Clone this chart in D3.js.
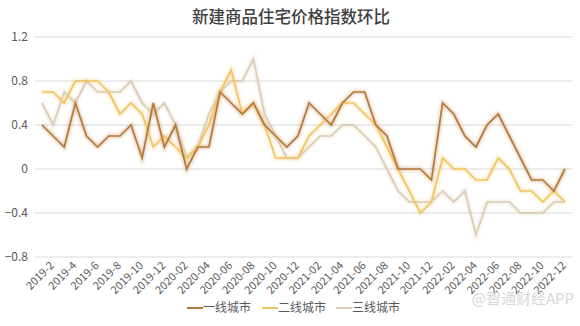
<!DOCTYPE html>
<meta charset="utf-8">
<style>
body { margin: 0; background: #fff; }
text { font-family: "Noto Sans CJK SC", "Noto Sans", sans-serif; }
</style>
<body>
<script src="https://d3js.org/d3.v7.min.js"></script>
<script>

var width = 580,
    height = 326;

var months = [
  "2019-1","2019-2","2019-3","2019-4","2019-5","2019-6","2019-7","2019-8","2019-9","2019-10","2019-11","2019-12",
  "2020-01","2020-02","2020-03","2020-04","2020-05","2020-06","2020-07","2020-08","2020-09","2020-10","2020-11","2020-12",
  "2021-01","2021-02","2021-03","2021-04","2021-05","2021-06","2021-07","2021-08","2021-09","2021-10","2021-11","2021-12",
  "2022-01","2022-02","2022-03","2022-04","2022-05","2022-06","2022-07","2022-08","2022-09","2022-10","2022-11","2022-12"
];

// labels shown on the x axis (every other month)
var tickLabels = months.filter(function(d, i){ return i % 2 == 1; });

var yTicks = [-0.8, -0.4, 0, 0.4, 0.8, 1.2];

var tier1 = [0.4,0.3,0.2,0.6,0.3,0.2,0.3,0.3,0.4,0.1,0.6,0.2,
             0.4,0,0.2,0.2,0.7,0.6,0.5,0.6,0.4,0.3,0.2,0.3,
             0.6,0.5,0.4,0.6,0.7,0.7,0.4,0.3,0,0,0,-0.1,
             0.6,0.5,0.3,0.2,0.4,0.5,0.3,0.1,-0.1,-0.1,-0.2,0];

var tier2 = [0.7,0.7,0.6,0.8,0.8,0.8,0.7,0.5,0.6,0.5,0.2,0.3,
             0.2,0.1,0.2,0.4,0.7,0.9,0.5,0.6,0.4,0.1,0.1,0.1,
             0.3,0.4,0.5,0.6,0.6,0.5,0.4,0.2,0,-0.2,-0.4,-0.3,
             0.1,0,0,-0.1,-0.1,0.1,0,-0.2,-0.2,-0.3,-0.2,-0.3];

var tier3 = [0.6,0.4,0.7,0.6,0.8,0.7,0.7,0.7,0.8,0.6,0.5,0.6,
             0.4,0.1,0.2,0.5,0.7,0.8,0.8,1.0,0.5,0.3,0.1,0.1,
             0.2,0.3,0.3,0.4,0.4,0.3,0.2,0,-0.2,-0.3,-0.3,-0.3,
             -0.2,-0.3,-0.2,-0.6,-0.3,-0.3,-0.3,-0.4,-0.4,-0.4,-0.3,-0.3];

var seriesNames = ["一线城市", "二线城市", "三线城市"];
var seriesColors = ["#b5793a", "#f3c35f", "#dccbb2"];
var allSeries = [tier1, tier2, tier3];

var svg = d3.select("body").append("svg")
    .attr("width", width)
    .attr("height", height);

var defs = svg.append("defs");
defs.append("filter").attr("id", "glow")
  .attr("x", "-5%").attr("y", "-5%").attr("width", "110%").attr("height", "110%")
  .append("feGaussianBlur").attr("stdDeviation", 1.6);

var x = d3.scalePoint().domain(months).range([42, 565]);
var y = d3.scaleLinear().domain([-0.8, 1.2]).range([257, 37]);

// title
svg.append("text")
  .attr("x", 291).attr("y", 23)
  .attr("text-anchor", "middle")
  .attr("font-size", 16.5)
  .attr("font-weight", 500)
  .attr("fill", "#404040")
  .text("新建商品住宅价格指数环比");

// grid
svg.append("g").selectAll("line")
  .data(yTicks)
  .enter().append("line")
  .attr("x1", 35).attr("x2", 572)
  .attr("y1", function(d){ return y(d); })
  .attr("y2", function(d){ return y(d); })
  .attr("stroke", "#d9d9d9")
  .attr("stroke-width", 1);

// y axis labels
var yAxis = d3.axisLeft(y).tickValues(yTicks).tickSize(0).tickPadding(0)
  .tickFormat(function(d){ return d3.format("")(+d.toFixed(1)); });
var gy = svg.append("g").attr("transform", "translate(28,0)").call(yAxis);
gy.select(".domain").remove();
gy.selectAll("text")
  .attr("font-family", "'Noto Sans CJK SC', sans-serif")
  .attr("font-size", 12)
  .attr("fill", "#595959");

// x axis labels
var xAxis = d3.axisBottom(x).tickValues(tickLabels).tickSize(0).tickPadding(0);
var gx = svg.append("g").attr("transform", "translate(0,262)").call(xAxis);
gx.select(".domain").remove();
gx.selectAll("text")
  .attr("font-family", "'Noto Sans CJK SC', sans-serif")
  .attr("font-size", 11)
  .attr("fill", "#595959")
  .attr("text-anchor", "end")
  .attr("dy", "0.35em")
  .attr("transform", "rotate(-45) translate(-2,0)");

// lines
var line = d3.line()
  .x(function(d, i){ return x(months[i]); })
  .y(function(d){ return y(d); });

var order = [2, 1, 0];
order.forEach(function(k){
  svg.append("path")
    .datum(allSeries[k])
    .attr("d", line)
    .attr("fill", "none")
    .attr("stroke", seriesColors[k])
    .attr("stroke-width", 4)
    .attr("stroke-opacity", 0.35)
    .attr("filter", "url(#glow)");
});
order.forEach(function(k){
  svg.append("path")
    .datum(allSeries[k])
    .attr("d", line)
    .attr("fill", "none")
    .attr("stroke", seriesColors[k])
    .attr("stroke-width", 1.7)
    .attr("stroke-linejoin", "miter");
});

// watermark
svg.append("text")
  .attr("x", 574).attr("y", 304)
  .attr("text-anchor", "end")
  .attr("font-size", 15)
  .attr("fill", "#d6d6d6")
  .text("@智通财经APP");

// legend
var legendX = [187, 262, 336];
var legend = svg.append("g").selectAll("g")
  .data(seriesNames)
  .enter().append("g")
  .attr("transform", function(d, i){ return "translate(" + legendX[i] + ",308)"; });
legend.append("line")
  .attr("x1", 0).attr("x2", 16)
  .attr("stroke", function(d, i){ return seriesColors[i]; })
  .attr("stroke-width", 2);
legend.append("text")
  .attr("x", 16).attr("dy", "0.35em")
  .attr("font-size", 12)
  .attr("fill", "#595959")
  .text(function(d){ return d; });

</script>
